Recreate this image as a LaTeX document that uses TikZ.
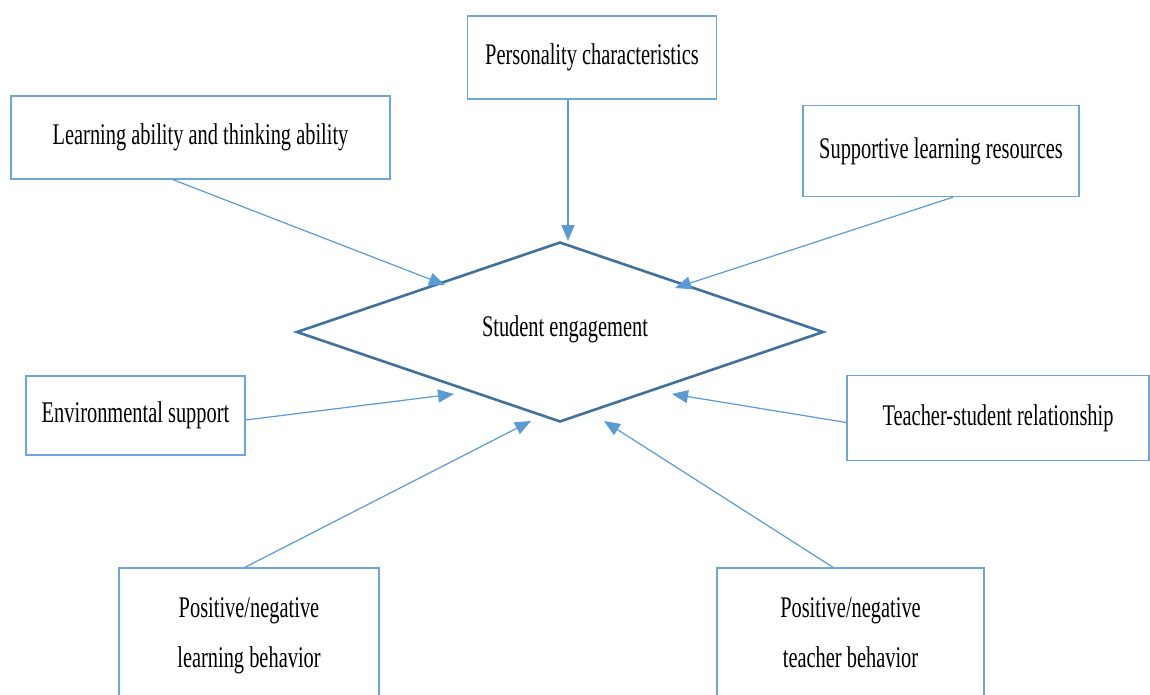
\documentclass[tikz,border=0pt]{standalone}
\usepackage{fontspec}
\setmainfont[FakeStretch=0.68]{Liberation Serif}
\usetikzlibrary{shapes.geometric,arrows.meta,calc}
\definecolor{boxblue}{RGB}{110,165,220}
\definecolor{arrblue}{RGB}{91,155,213}
\definecolor{diablue}{RGB}{65,113,156}
\tikzset{
  factor/.style={draw=boxblue, line width=1.4pt, rectangle, inner sep=0pt, align=center,
    font=\fontsize{30}{50}\selectfont},
  link/.style={draw=arrblue, line width=1.2pt, -{Triangle[length=16pt,width=13pt]}},
  core/.style={draw=diablue, line width=2.6pt, diamond, inner sep=0pt, aspect=2.93,
    minimum width=527pt, minimum height=180pt, font=\fontsize{30}{34}\selectfont}
}
\begin{document}
\begin{tikzpicture}[x=1pt,y=-1pt]
\clip (0,0) rectangle (1150,695);
\fill[white] (0,0) rectangle (1150,695);
% central diamond
\node[core] (se) at (560,332) {\hspace*{10pt}\raisebox{11pt}{Student engagement}};
% factor boxes
\node[factor, minimum width=249pt, minimum height=83pt] (pers) at (592,57.5) {Personality characteristics};
\node[factor, minimum width=379pt, minimum height=83pt] (learn) at (200.5,137.5) {Learning ability and thinking ability};
\node[factor, minimum width=276pt, minimum height=91pt] (supp) at (941,151) {Supportive learning resources};
\node[factor, minimum width=219pt, minimum height=79pt] (env) at (135.5,415.5) {Environmental support};
\node[factor, minimum width=302pt, minimum height=85pt] (tsr) at (998,418) {Teacher-student relationship};
\node[factor, minimum width=260pt, minimum height=136pt] (plb) at (249,636) {Positive/negative\\learning behavior};
\node[factor, minimum width=267pt, minimum height=136pt] (ptb) at (850.5,636) {Positive/negative\\teacher behavior\vphantom{g}};
% arrow tips on the diamond
\coordinate (tp) at (568,241);
\coordinate (tl) at (445,285);
\coordinate (ts) at (675,288);
\coordinate (te) at (454,394);
\coordinate (tt) at (672,394);
\coordinate (tb) at (531,421);
\coordinate (tc) at (604,421);
% connectors
\draw[link] ([xshift=-24pt]pers.south) -- (tp);
\draw[link] ([xshift=-27.5pt]learn.south) -- (tl);
\draw[link] ([xshift=12pt]supp.south) -- (ts);
\draw[link] ([yshift=-4.5pt]env.east) -- (te);
\draw[link] ([yshift=-4.5pt]tsr.west) -- (tt);
\draw[link] ([xshift=-4pt]plb.north) -- (tb);
\draw[link] ([xshift=-17.5pt]ptb.north) -- (tc);
\end{tikzpicture}
\end{document}
